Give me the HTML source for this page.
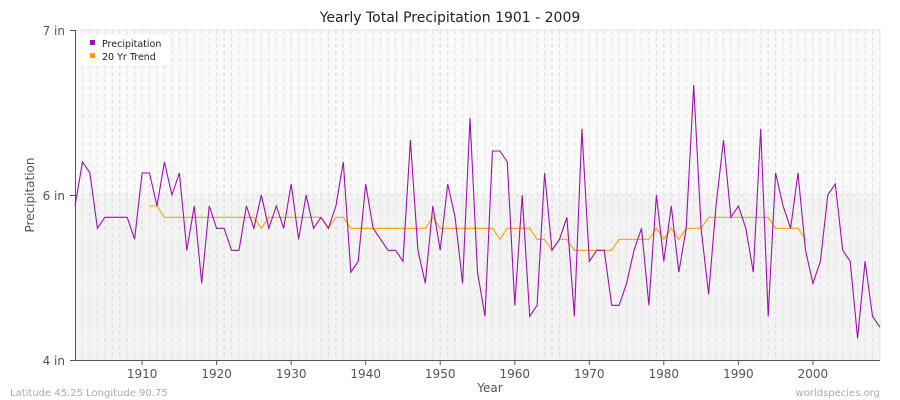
<!DOCTYPE html>
<html><head><meta charset="utf-8"><style>
body{margin:0;background:#fff;}
svg{display:block;font-family:"DejaVu Sans","Liberation Sans",sans-serif;}
</style></head><body>
<svg id="s" width="900" height="400" xmlns="http://www.w3.org/2000/svg">
<rect width="900" height="400" fill="#fff"/>
<rect x="75" y="30" width="805" height="165" fill="#f9f9f9"/>
<rect x="75" y="195" width="805" height="165" fill="#f3f3f3"/>
<g id="grid"></g>
<line x1="75" y1="195" x2="880" y2="195" stroke="#dddddd" stroke-dasharray="4,3"/>
<line x1="75" y1="30" x2="880" y2="30" stroke="#e4e4e4"/>
<line x1="880" y1="30" x2="880" y2="360" stroke="#e4e4e4"/>
<line x1="75.5" y1="30" x2="75.5" y2="360" stroke="#555"/>
<line x1="75" y1="360.5" x2="880" y2="360.5" stroke="#555"/>
<g stroke="#555"><line x1="70" y1="30.5" x2="75" y2="30.5"/><line x1="70" y1="195.5" x2="75" y2="195.5"/><line x1="70" y1="360.5" x2="75" y2="360.5"/></g>
<g font-size="12" fill="#555" text-anchor="end"><text x="65" y="35">7 in</text><text x="65" y="200">6 in</text><text x="65" y="365">4 in</text></g>
<g id="xt" font-size="12" fill="#555" text-anchor="middle"></g>
<text x="450" y="22" font-size="14" text-anchor="middle" fill="#222">Yearly Total Precipitation 1901 - 2009</text>
<text x="34" y="195" font-size="12" fill="#555" text-anchor="middle" transform="rotate(-90 34 195)">Precipitation</text>
<text x="490" y="392" font-size="12" fill="#555" text-anchor="middle">Year</text>
<text x="10" y="396" font-size="10" fill="#aaa">Latitude 45.25 Longitude 90.75</text>
<text x="880" y="396" font-size="10" fill="#aaa" text-anchor="end">worldspecies.org</text>
<polyline id="tr" fill="none" stroke="#ffa000" stroke-width="1.1"/>
<polyline id="pr" fill="none" stroke="#a010b0" stroke-width="1.1"/>
<rect x="81" y="35" width="89" height="30" rx="4" fill="#fff" opacity="0.9"/>
<rect x="90" y="40" width="5" height="5" fill="#a010b0"/>
<rect x="90" y="53" width="5" height="5" fill="#ffa000"/>
<text x="102" y="47" font-size="9.5" fill="#222">Precipitation</text>
<text x="102" y="60" font-size="9.5" fill="#222">20 Yr Trend</text>
</svg>
<script>
var P=[558,426,459,625,592,592,592,592,658,459,459,558,426,525,459,691,558,790,558,625,625,691,691,558,625,525,625,558,625,492,658,525,625,592,625,558,426,757,724,492,625,658,691,691,724,360,691,790,558,691,492,592,790,294,757,889,393,393,426,856,525,889,856,459,691,658,592,889,327,724,691,691,856,856,790,691,625,856,525,724,558,757,625,195,625,823,558,360,592,558,625,757,327,889,459,558,625,459,691,790,724,525,492,691,724,955,724,889,922];
var T={};
function st(a,b,v){for(var y=a;y<=b;y++)T[y]=v;}
st(1911,1912,558);st(1913,1925,592);T[1926]=625;st(1927,1934,592);T[1935]=625;st(1936,1937,592);st(1938,1948,625);T[1949]=592;st(1950,1957,625);T[1958]=658;st(1959,1962,625);st(1963,1964,658);T[1965]=691;st(1966,1967,658);st(1968,1973,691);st(1974,1978,658);T[1979]=625;T[1980]=658;T[1981]=625;T[1982]=658;st(1983,1985,625);st(1986,1994,592);st(1995,1998,625);T[1999]=658;
function X(y){return 75+(y-1901)*805/108;}
function Y(z){return 20+z/3;}
var p=P.map(function(v,i){return X(1901+i).toFixed(1)+","+Y(v).toFixed(1);}).join(" ");
document.getElementById("pr").setAttribute("points",p);
var t=[];for(var y=1911;y<=1999;y++)t.push(X(y).toFixed(1)+","+Y(T[y]).toFixed(1));
document.getElementById("tr").setAttribute("points",t.join(" "));
var g=document.getElementById("grid"),h="";
for(var y=1902;y<=2008;y++){var x=X(y).toFixed(1);h+='<line x1="'+x+'" y1="30" x2="'+x+'" y2="360" stroke="#dedede" stroke-dasharray="4,3"/>';}
g.innerHTML=h;
var xt=document.getElementById("xt"),s="";
for(var y=1910;y<=2000;y+=10){var x=X(y);s+='<text x="'+x.toFixed(1)+'" y="378">'+y+'</text><line x1="'+x.toFixed(1)+'" y1="360" x2="'+x.toFixed(1)+'" y2="365" stroke="#555"/>';}
xt.innerHTML=s;
</script>
</body></html>
